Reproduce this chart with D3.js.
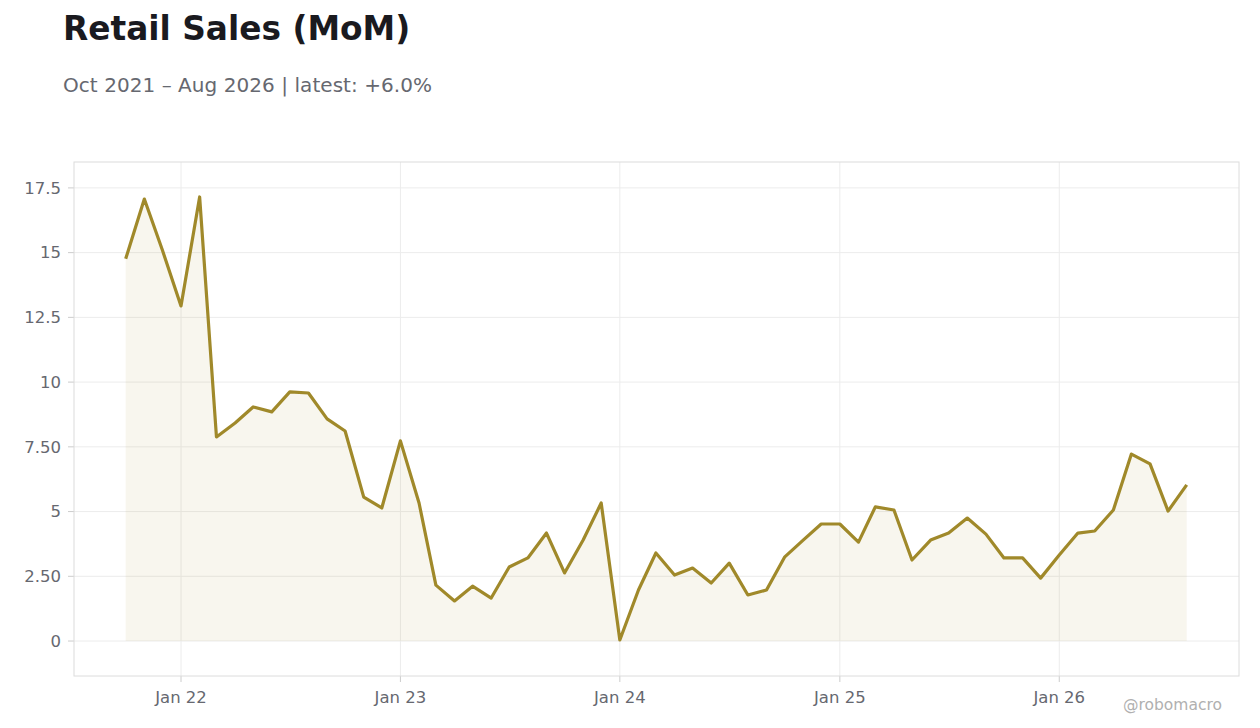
<!DOCTYPE html>
<html><head><meta charset="utf-8">
<script src="https://cdn.jsdelivr.net/npm/d3@7"></script>
<style>body{margin:0;background:#fff;font-family:"DejaVu Sans",sans-serif}</style>
</head><body><svg id="c" width="1260" height="728"></svg>
<script>
const startYear = 2021, startMonth = 9; // Oct 2021
const values = [14.76,17.07,15.1,12.94,17.15,7.88,8.42,9.04,8.85,9.62,9.58,8.58,8.11,5.56,5.14,7.73,5.33,2.16,1.55,2.12,1.66,2.86,3.21,4.17,2.63,3.9,5.33,0.04,1.97,3.4,2.55,2.82,2.24,3.01,1.78,1.97,3.24,3.9,4.52,4.52,3.82,5.18,5.06,3.13,3.9,4.17,4.75,4.13,3.21,3.21,2.43,3.32,4.17,4.25,5.06,7.22,6.84,5.02,6.03];
const yTicks = [0,2.5,5,7.5,10,12.5,15,17.5];
const yTickLabels = ["0","2.50","5","7.50","10","12.5","15","17.5"];
const xTickDates = ["2022-01-01","2023-01-01","2024-01-01","2025-01-01","2026-01-01"];
const xTickLabels = ["Jan 22","Jan 23","Jan 24","Jan 25","Jan 26"];

const data = values.map((v,i)=>({d:new Date(startYear,startMonth+i,1),v}));
const svg = d3.select("#c");
const L=74,R=1239,T=162,B=676;
const x = d3.scaleTime().domain([new Date(2021,6,7),new Date(2026,9,27)]).range([L,R]);
const y = d3.scaleLinear().domain([-1.35,18.5]).range([B,T]);

svg.append("text").attr("x",63).attr("y",40).attr("font-size",32.8).attr("font-weight","bold").attr("fill","#1a1a1f").text("Retail Sales (MoM)");
svg.append("text").attr("x",63).attr("y",92).attr("font-size",20).attr("fill","#666870").attr("textLength",369).text("Oct 2021 – Aug 2026 | latest: +6.0%");

const g = svg.append("g");
yTicks.forEach((t,i)=>{
  g.append("line").attr("x1",L).attr("x2",R).attr("y1",y(t)).attr("y2",y(t)).attr("stroke","#ececec");
  g.append("line").attr("x1",L-6).attr("x2",L).attr("y1",y(t)).attr("y2",y(t)).attr("stroke","#ccc");
  g.append("text").attr("x",L-13).attr("y",y(t)).attr("dy","0.35em").attr("text-anchor","end").attr("font-size",16.5).attr("fill","#666870").text(yTickLabels[i]);
});
xTickDates.forEach((s,i)=>{
  const xx = x(new Date(s+"T00:00:00"));
  g.append("line").attr("x1",xx).attr("x2",xx).attr("y1",T).attr("y2",B).attr("stroke","#ececec");
  g.append("line").attr("x1",xx).attr("x2",xx).attr("y1",B).attr("y2",B+6).attr("stroke","#ccc");
  g.append("text").attr("x",xx).attr("y",B+27).attr("text-anchor","middle").attr("font-size",16.5).attr("fill","#666870").text(xTickLabels[i]);
});
g.append("rect").attr("x",L).attr("y",T).attr("width",R-L).attr("height",B-T).attr("fill","none").attr("stroke","#dcdcdc");

g.append("path").datum(data).attr("fill","#a0892a").attr("fill-opacity",0.08)
 .attr("d",d3.area().x(d=>x(d.d)).y0(y(0)).y1(d=>y(d.v)));
g.append("path").datum(data).attr("fill","none").attr("stroke","#a0892a").attr("stroke-width",3.2).attr("stroke-linejoin","round")
 .attr("d",d3.line().x(d=>x(d.d)).y(d=>y(d.v)));

svg.append("text").attr("x",1222).attr("y",710).attr("text-anchor","end").attr("font-size",15.5).attr("fill","#b0b0b0").text("@robomacro");
</script></body></html>
